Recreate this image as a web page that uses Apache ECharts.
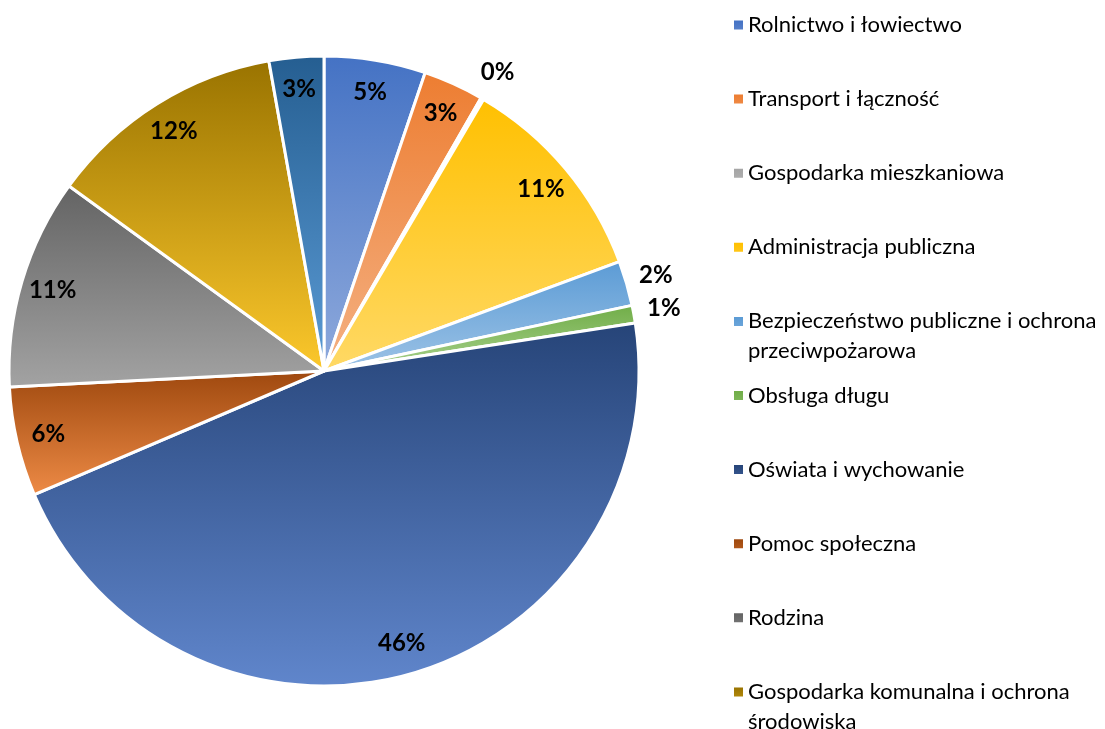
<!DOCTYPE html>
<html>
<head>
<meta charset="utf-8">
<script src="https://cdn.jsdelivr.net/npm/echarts@6/dist/echarts.min.js"></script>
<style>
html,body{margin:0;padding:0;background:#fff}
#main{width:1105px;height:729px}
</style>
</head>
<body>
<div id="main"></div>
<script>
// dane (udział w %)
var names = [
    'Rolnictwo i łowiectwo',
    'Transport i łączność',
    'Gospodarka mieszkaniowa',
    'Administracja publiczna',
    'Bezpieczeństwo publiczne i ochrona przeciwpożarowa',
    'Obsługa długu',
    'Oświata i wychowanie',
    'Pomoc społeczna',
    'Rodzina',
    'Gospodarka komunalna i ochrona środowiska',
    'Kultura i ochrona dziedzictwa narodowego'
];
var values = [5.2, 3.1, 0.15, 10.9, 2.3, 0.9, 46.0, 5.6, 10.8, 12.2, 2.8];

var topColors = ['#4472C4','#ED7D31','#A5A5A5','#FFC000','#5B9BD5','#70AD47','#264478','#9E480E','#636363','#997300','#255E91'];
var bottomColors = ['#8FAADC','#F4B183','#C9C9C9','#FFD966','#9DC3E6','#A9D18E','#6086CC','#EE8B46','#A3A3A3','#FCC82C','#5B9BD5'];

var fontName = 'Lato';

// zawijanie długich nazw w legendzie (każda pozycja ma 2 wiersze)
function wrap(name) {
    var words = name.split(' '), lines = [''];
    for (var i = 0; i < words.length; i++) {
        var cur = lines[lines.length - 1];
        if (cur.length && (cur + ' ' + words[i]).length > 34) {
            lines.push(words[i]);
        } else {
            lines[lines.length - 1] = cur.length ? cur + ' ' + words[i] : words[i];
        }
    }
    if (lines.length < 2) lines.push('');
    return lines.join('\n');
}

var mainData = [];
var ghostData = [];
for (var i = 0; i < names.length; i++) {
    mainData.push({
        name: names[i],
        value: values[i],
        itemStyle: {
            color: new echarts.graphic.LinearGradient(0, 0, 0, 1, [
                {offset: 0, color: topColors[i]},
                {offset: 1, color: bottomColors[i]}
            ])
        }
    });
    ghostData.push({name: names[i], value: values[i]});
}

var labelStyle = {
    show: true,
    position: 'inside',
    color: '#000',
    fontFamily: fontName,
    fontWeight: 'bold',
    fontSize: 24
};

var myChart = echarts.init(document.getElementById('main'));
var option = {
    animation: false,
    legend: {
        orient: 'vertical',
        left: 734,
        top: 10,
        height: 900, // legenda wychodzi poza dół jak w oryginale
        padding: 0,
        itemWidth: 9,
        itemHeight: 39,
        itemGap: 14.1,
        // kwadracik u góry, żeby stał przy pierwszym wierszu
        icon: 'path://M0,0L9,0L9,9L0,9Z M0,39L0.001,39',
        itemStyle: {borderWidth: 0},
        selectedMode: false,
        formatter: wrap,
        textStyle: {
            fontFamily: fontName,
            fontSize: 22,
            color: '#000',
            lineHeight: 30
        },
        data: names
    },
    series: [
        {
            name: 'main',
            type: 'pie',
            center: [324, 371],
            radius: 315,
            startAngle: 90,
            silent: true,
            label: {show: false},
            labelLine: {show: false},
            itemStyle: {borderColor: '#fff', borderWidth: 3},
            data: mainData
        },
        {
            // etykiety wewnątrz wycinków
            name: 'inner',
            type: 'pie',
            center: [324, 371],
            radius: [245, 315],
            startAngle: 90,
            silent: true,
            itemStyle: {color: 'rgba(0,0,0,0)'},
            label: Object.assign({}, labelStyle, {
                formatter: function (p) {
                    return p.percent >= 2.5 ? Math.round(p.percent) + '%' : '';
                }
            }),
            labelLine: {show: false},
            data: ghostData
        },
        {
            // etykiety na zewnątrz małych wycinków
            name: 'outer',
            type: 'pie',
            center: [324, 371],
            radius: [315, 370],
            startAngle: 90,
            silent: true,
            itemStyle: {color: 'rgba(0,0,0,0)'},
            label: Object.assign({}, labelStyle, {
                formatter: function (p) {
                    return p.percent < 2.5 ? Math.round(p.percent) + '%' : '';
                }
            }),
            labelLine: {show: false},
            data: ghostData
        }
    ]
};
myChart.setOption(option);
</script>
</body>
</html>
